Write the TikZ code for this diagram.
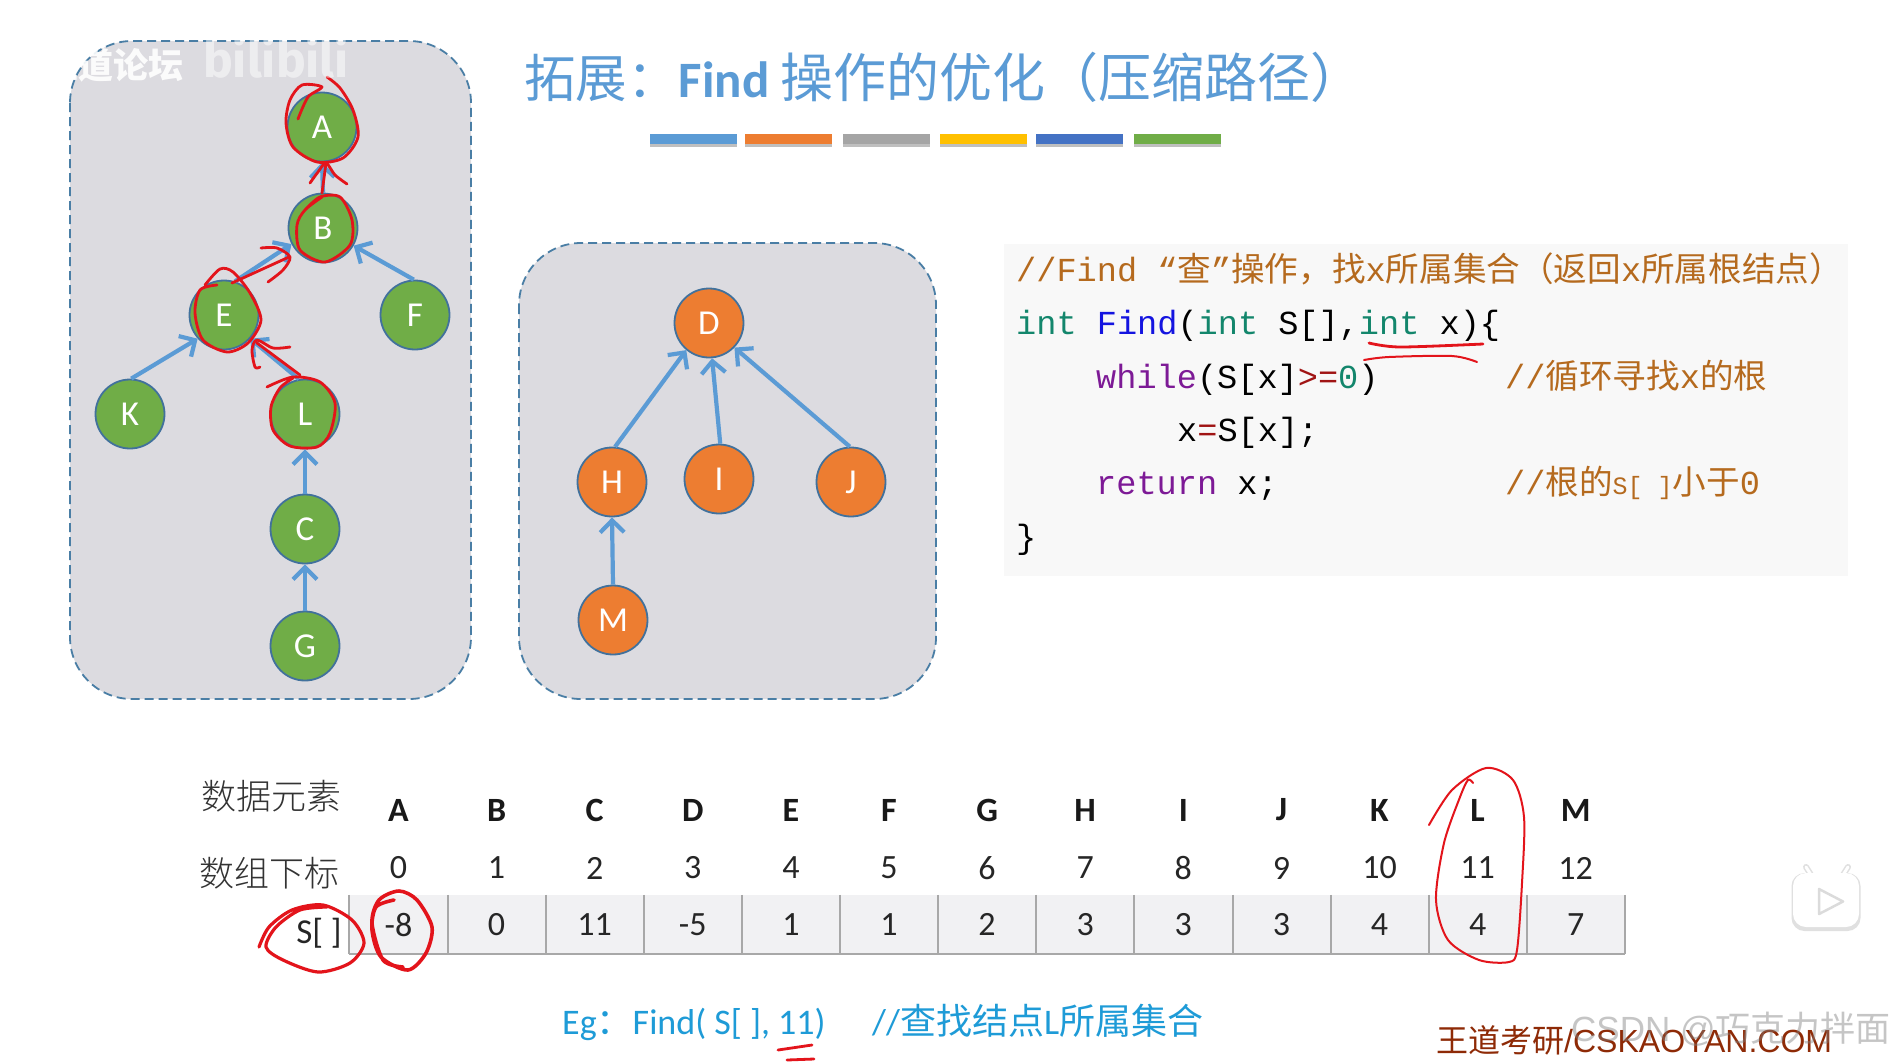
\documentclass[tikz,border=0pt]{standalone}
\usepackage{fontspec}
\usetikzlibrary{arrows.meta}
\setmainfont{Carlito}
\newfontfamily\cjk{Noto Sans CJK SC}
\newfontfamily\cjklight{Noto Sans CJK SC Light}
\newfontfamily\monof{Liberation Mono}
\newfontfamily\wmf{Liberation Sans}
\newfontfamily\bilif{Fira Sans}
\newcommand{\fsz}[1]{\fontsize{#1}{#1}\selectfont}
\newcommand{\Cj}[1]{{\cjk\fsz{33.6}#1}}
\definecolor{pbg}{HTML}{DCDBE0}
\definecolor{pborder}{HTML}{4A7EA5}
\definecolor{gfill}{HTML}{70AD47}
\definecolor{ofill}{HTML}{ED7D31}
\definecolor{nborder}{HTML}{41719C}
\definecolor{arrowb}{HTML}{5B9BD5}
\definecolor{codebg}{HTML}{F8F8F8}
\definecolor{cmt}{HTML}{B56A1E}
\definecolor{kwg}{HTML}{13866C}
\definecolor{kwb}{HTML}{1414E0}
\definecolor{kwp}{HTML}{7D1A96}
\definecolor{opr}{HTML}{A01414}
\definecolor{cellf}{HTML}{F1F1F3}
\definecolor{cellb}{HTML}{A8A8A8}
\definecolor{egc}{HTML}{1E9BD7}
\definecolor{brand}{HTML}{8E2A06}
\definecolor{inkr}{HTML}{E3141B}
\tikzset{
  panel/.style={draw=pborder,fill=pbg,line width=1.8pt,dash pattern=on 9pt off 5pt,rounded corners=62pt},
  treenode/.style={circle,minimum size=69pt,inner sep=0pt,draw=nborder,line width=1.8pt,text=white,font=\fsz{35}},
  gnode/.style={treenode,fill=gfill},
  onode/.style={treenode,fill=ofill},
  link/.style={draw=arrowb,line width=4.2pt,-{Straight Barb[length=12pt,width=24pt,line width=4.2pt]}},
  ink/.style={draw=inkr,line width=2.8pt,line cap=round,line join=round},
  bar/.style={inner sep=0pt,minimum height=10pt,anchor=north west},
  codeline/.style={anchor=base west,inner sep=0pt,font=\monof\fsz{33.6}},
  cellnode/.style={fill=cellf,minimum width=98.1pt,minimum height=59pt,inner sep=0pt,font=\fsz{34},text=black!85},
  headcell/.style={inner sep=0pt,font=\bfseries\fsz{34},text=black!90},
  idxcell/.style={inner sep=0pt,font=\fsz{34},text=black!85}
}
\begin{document}
\begin{tikzpicture}[x=1pt,y=-1pt]
\useasboundingbox (0,0) rectangle (1892,1061);
\fill[white] (0,0) rectangle (1892,1061);

% panels
\draw[panel] (70,41) rectangle (471,699);
\draw[panel] (519,243) rectangle (936,699);

% title
\node[anchor=base west,inner sep=0pt,text=arrowb] (title) at (524,97)
  {{\cjk\fsz{51.5}拓展：}{\bfseries\fsz{51}Find }{\cjk\fsz{53}操作的优化（压缩路径）}};

% colour bars
\foreach \nm/\x/\w/\c in {b1/650/87/5B9BD5,b2/745/87/ED7D31,b3/843/87/A5A5A5,b4/940/87/FFC000,b5/1036/87/4472C4,b6/1134/87/70AD47}{
  \definecolor{barc}{HTML}{\c}
  \fill[black!25] (\x,138) rectangle ++(\w,9);
  \node[bar,fill=barc,minimum width=\w pt] (\nm) at (\x,134) {};
}

% green tree
\node[gnode] (A) at (322,127) {A};
\node[gnode] (B) at (323,228) {B};
\node[gnode] (E) at (224,315) {E};
\node[gnode] (F) at (415,315) {F};
\node[gnode] (K) at (130,414) {K};
\node[gnode] (L) at (305,414) {L};
\node[gnode] (C) at (305,529) {C};
\node[gnode] (G) at (305,646) {G};
\draw[link] (B.90) -- (A.270);
\draw[link] (E.72) -- (B.207);
\draw[link] (F.92) -- (B.-30);
\draw[link] (K.88) -- (E.-138);
\draw[link] (L.100) -- (E.-42);
\draw[link] (C.90) -- (L.270);
\draw[link] (G.90) -- (C.270);

% orange tree
\node[onode] (D) at (709,323) {D};
\node[onode] (H) at (612,482) {H};
\node[onode] (I) at (719,479) {I};
\node[onode] (J) at (851,482) {J};
\node[onode] (M) at (613,620) {M};
\draw[link] (H.85) -- (D.-130);
\draw[link] (I.88) -- (D.-85);
\draw[link] (J.92) -- (D.-44);
\draw[link] (M.90) -- (H.270);

% code
\node[fill=codebg,inner sep=0pt,minimum width=844pt,minimum height=332pt,anchor=north west] (codebox) at (1004,244) {};
\node[codeline,text=cmt] (l1) at (1016,281) {//Find “\Cj{查}”\Cj{操作，找}x\Cj{所属集合（返回}x\Cj{所属根结点）}};
\node[codeline] (l2) at (1016,334) {\textcolor{kwg}{int} \textcolor{kwb}{Find}(\textcolor{kwg}{int} S[],\textcolor{kwg}{int} x)\{};
\node[codeline] (l3) at (1096,388) {\textcolor{kwp}{while}(S[x]\textcolor{opr}{>=}\textcolor{kwg}{0})};
\node[codeline,text=cmt] (l3c) at (1505,388) {//\Cj{循环寻找}x\Cj{的根}};
\node[codeline] (l4) at (1177,441) {x\textcolor{opr}{=}S[x];};
\node[codeline] (l5) at (1096,494) {\textcolor{kwp}{return} x;};
\node[codeline,text=cmt] (l5c) at (1505,494) {//\Cj{根的}{\fsz{25}S[ ]}\Cj{小于}0};
\node[codeline] (l6) at (1016,548) {\}};

% table
\foreach \l/\v [count=\i from 0] in {A/-8,B/0,C/11,D/-5,E/1,F/1,G/2,H/3,I/3,J/3,K/4,L/4,M/7}{
  \pgfmathsetmacro{\cx}{398.5+98.1*\i}
  \node[cellnode] (c\i) at (\cx,924.5) {\raisebox{-3pt}{\v}};
  \node[headcell] (h\i) at (\cx,810) {\l};
  \node[idxcell] (n\i) at (\cx,868) {\i};
}
\foreach \i in {0,...,12}{
  \draw[cellb,line width=2pt] (c\i.north east) -- (c\i.south east);
}
\draw[cellb,line width=2pt] (c0.north west) -- (c0.south west);
\draw[cellb,line width=2.4pt] (c0.south west) -- (c12.south east);
\node[inner sep=0pt,text=black!80,font=\cjklight\fsz{35}] (lab1) at (271,796) {数据元素};
\node[inner sep=0pt,text=black!80,font=\cjklight\fsz{35}] (lab2) at (269,873) {数组下标};
\node[inner sep=0pt,text=black!85,font=\fsz{35}] (lab3) at (319,933) {S[ ]};

% example
\node[anchor=base west,inner sep=0pt,text=egc] (eg) at (562,1034)
  {\fsz{36}Eg{\cjk\fsz{36}：}Find( S[ ], 11)};
\node[anchor=base west,inner sep=0pt,text=egc] (egc) at (872,1034)
  {\fsz{36}//{\cjk\fsz{36}查找结点}L{\cjk\fsz{36}所属集合}};

% brand
\node[anchor=base west,inner sep=0pt,text=brand] (brand) at (1436,1052)
  {{\cjk\fsz{32}王道考研}{\wmf\fsz{32}/CSKAOYAN.COM}};
\node[anchor=base west,inner sep=0pt,text=gray,opacity=.45] (wm) at (1571,1041)
  {{\wmf\fsz{35}CSDN @}{\cjk\fsz{35}巧克力拌面}};

% red annotations
\draw[ink] plot[smooth] coordinates {(298,119) (308,97) (322,87) (302,85) (290,100) (286,123) (293,147) (317,162) (343,158) (358,137) (353,110) (340,88) (327,77)};
\draw[ink] (322,193) -- (326,163);
\draw[ink] plot[smooth] coordinates {(310,183) (318,172) (326,163) (335,175) (347,184)};
\draw[ink] plot[smooth] coordinates {(305,210) (320,197) (340,197) (352,220) (350,245) (325,262) (300,250) (297,225) (305,210) (322,197)};
\draw[ink] (232,283) -- (289,257);
\draw[ink] plot[smooth] coordinates {(261,248) (277,248) (290,257) (283,270) (268,282)};
\draw[ink] plot[smooth] coordinates {(217,285) (200,290) (195,313) (203,340) (227,352) (248,343) (261,320) (250,293) (233,272) (220,269) (205,285)};
\draw[ink] (300,375) -- (257,343);
\draw[ink] plot[smooth] coordinates {(290,347) (273,348) (257,340) (252,350) (255,367) (260,367)};
\draw[ink] plot[smooth] coordinates {(267,387) (293,377) (320,382) (335,403) (330,433) (317,447) (290,446) (273,430) (271,407) (280,388) (293,378)};
\draw[ink] plot[smooth] coordinates {(1369,343) (1400,347) (1483,344)};
\draw[ink,line width=2pt] plot[smooth] coordinates {(1364,360) (1389,357) (1452,356) (1477,362)};
\draw[ink,line width=3.2pt] plot[smooth] coordinates {(259,947) (269,927) (292,910) (323,905) (352,920) (364,943) (350,963) (318,972) (283,960) (266,947) (276,927) (300,910) (327,907)};
\draw[ink,line width=3.6pt] plot[smooth] coordinates {(394,900) (376,907) (372,930) (381,957) (408,970) (426,953) (432,927) (417,900) (399,891) (379,900) (372,923) (383,960) (403,967)};
\draw[ink,line width=2pt] plot[smooth] coordinates {(1429,825) (1452,790) (1486,768) (1513,780) (1524,817) (1522,883) (1517,950) (1509,962) (1479,960) (1448,940) (1436,900) (1444,843) (1460,797) (1468,780) (1473,783)};
\draw[ink] (778,1050) -- (812,1045);
\draw[ink] (787,1060) -- (814,1059);

% video overlays
\node[anchor=center,inner sep=0pt,text=white,opacity=.9,font=\cjk\bfseries\fsz{35}] (wd) at (113,65) {王道论坛};
\node[anchor=center,inner sep=0pt,text=white,opacity=.5,font=\bilif\bfseries\fsz{50}] (bili) at (276,58) {bilibili};
\draw[black!12,line width=6pt,line cap=round] (1813,878) -- (1806,867);
\draw[black!12,line width=6pt,line cap=round] (1841,878) -- (1848,867);
\draw[white,line width=3pt,line cap=round] (1813,878) -- (1806,867);
\draw[white,line width=3pt,line cap=round] (1841,878) -- (1848,867);
\node[fill=black!12,rounded corners=13pt,minimum width=69pt,minimum height=58pt,inner sep=0pt] (tvs) at (1826,902) {};
\node[fill=white,rounded corners=13pt,minimum width=66pt,minimum height=54pt,inner sep=0pt] (tv) at (1826,900) {};
\draw[black!14,line width=2.5pt,line join=round,fill=white] (1819,889) -- (1843,901.5) -- (1819,914) -- cycle;
\end{tikzpicture}
\end{document}
